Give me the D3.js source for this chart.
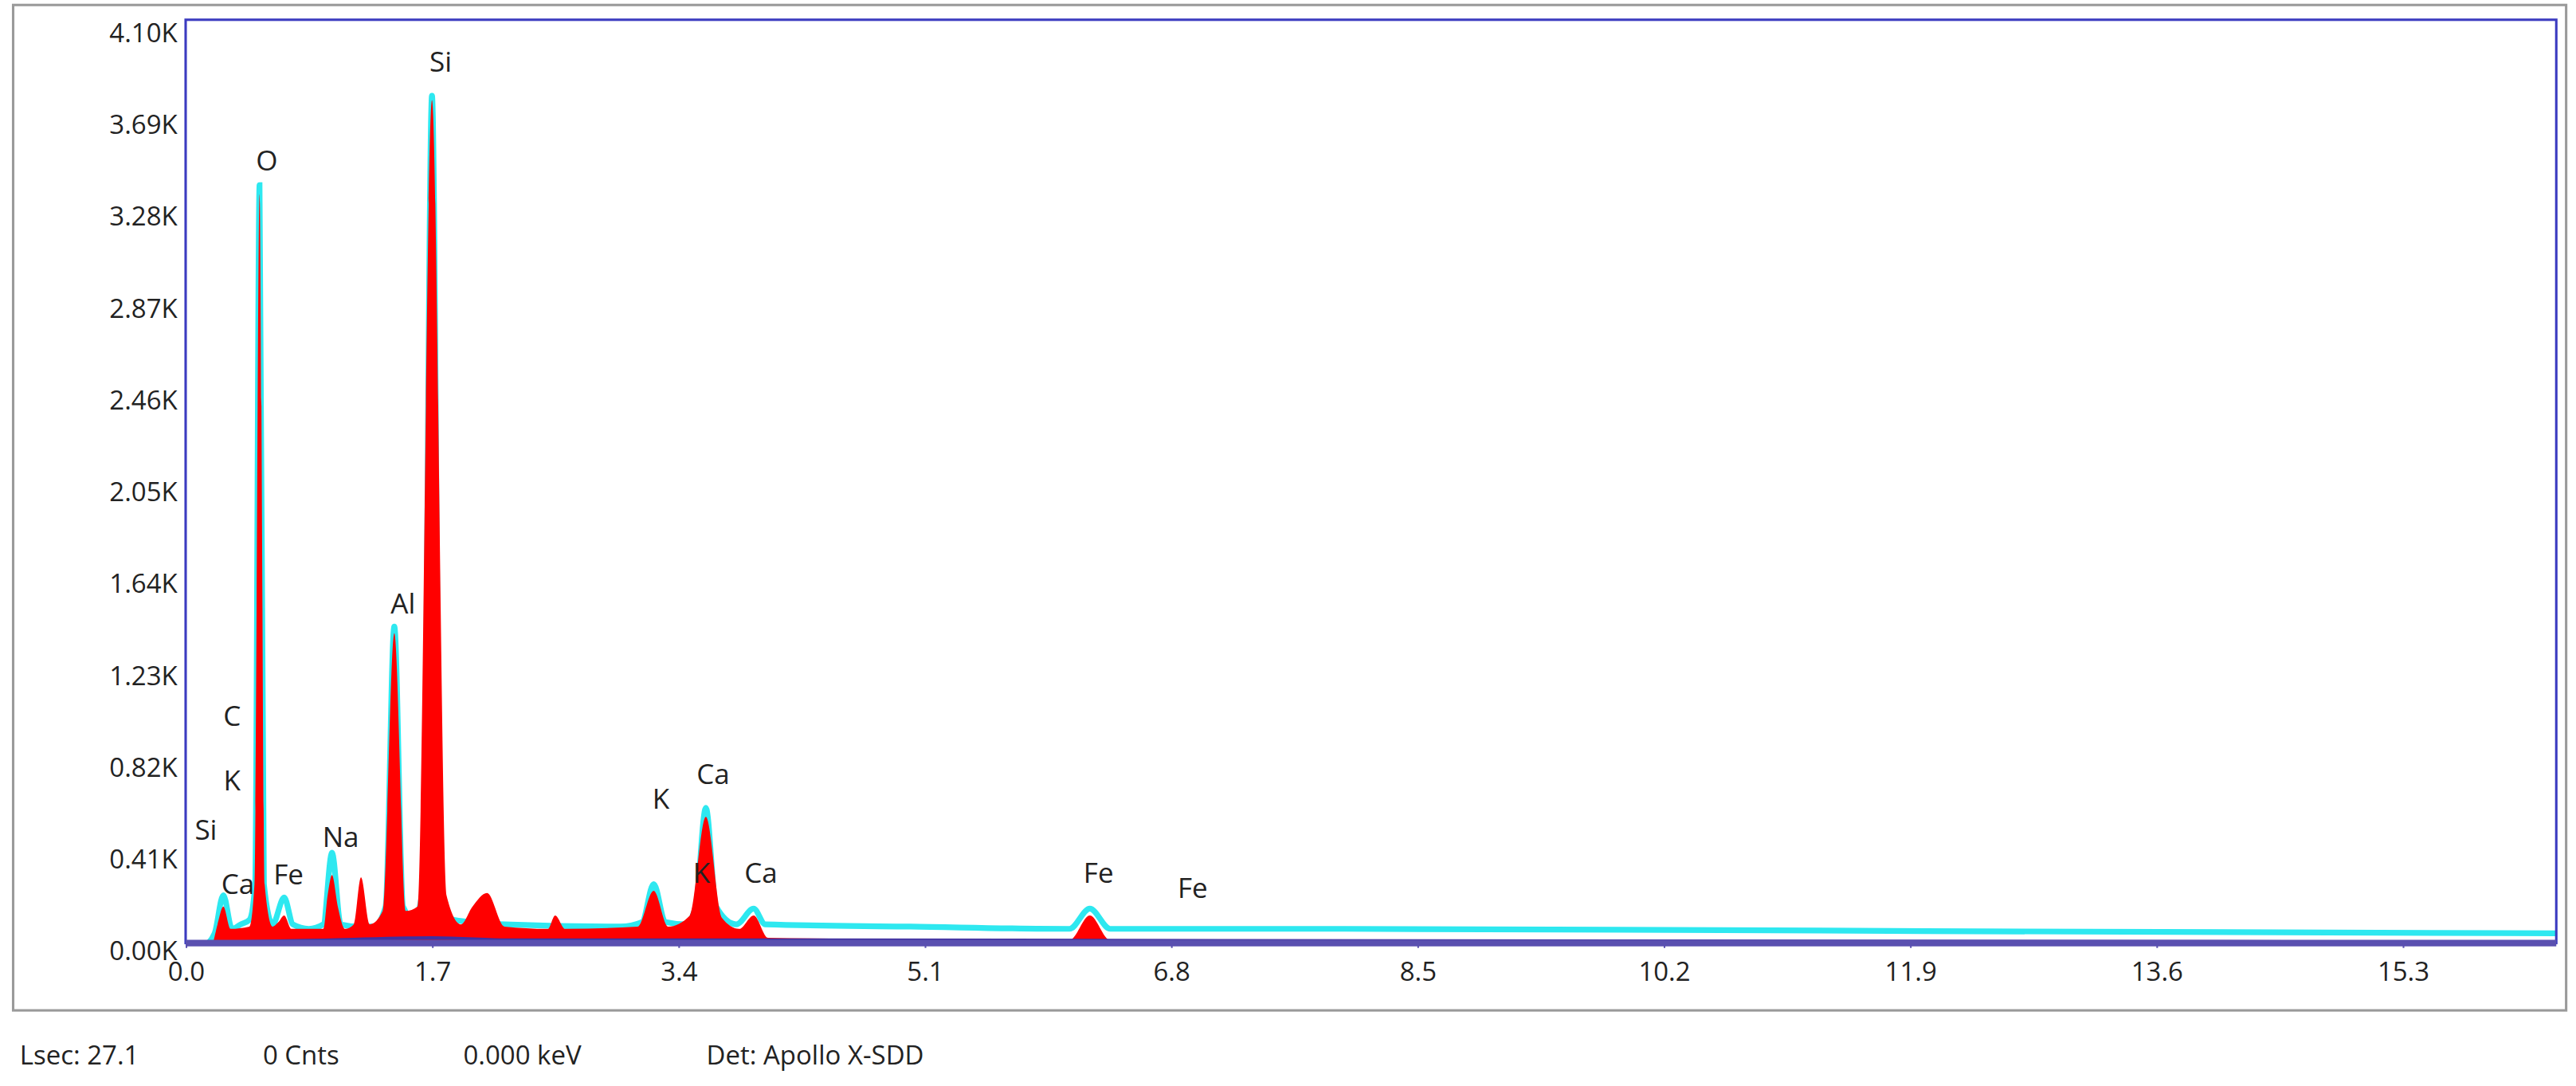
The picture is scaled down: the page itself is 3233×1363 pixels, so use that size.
<!DOCTYPE html>
<html><head><meta charset="utf-8">
<script src="https://cdn.jsdelivr.net/npm/d3@7"></script>
<style>body{margin:0;background:#fff}text{font-family:"Open Sans",sans-serif;fill:#222}</style>
</head><body>
<div id="chart"></div>
<script>
// spectrum: [keV, counts in K]
var totalSpectrum = [[0,0],[0.12,0.02],[0.2,0.08],[0.26,0.25],[0.32,0.1],[0.38,0.12],[0.44,0.14],[0.48,0.3],[0.51,3.42],[0.54,0.3],[0.6,0.12],[0.68,0.24],[0.74,0.12],[0.85,0.1],[0.95,0.12],[1.01,0.44],[1.07,0.12],[1.2,0.11],[1.3,0.11],[1.38,0.2],[1.44,1.45],[1.5,0.2],[1.58,0.14],[1.64,0.3],[1.70,3.82],[1.76,0.3],[1.85,0.14],[2.2,0.12],[3.0,0.11],[3.15,0.13],[3.23,0.3],[3.31,0.13],[3.45,0.12],[3.52,0.2],[3.59,0.64],[3.66,0.2],[3.8,0.12],[3.92,0.19],[4.0,0.12],[5,0.11],[6.1,0.1],[6.24,0.19],[6.38,0.1],[8,0.1],[12,0.09],[16.4,0.08]];
var fitSpectrum = [[0,0],[0.18,0.03],[0.22,0.12],[0.26,0.2],[0.31,0.1],[0.44,0.11],[0.475,0.3],[0.51,3.38],[0.545,0.3],[0.6,0.11],[0.64,0.13],[0.68,0.16],[0.73,0.1],[0.95,0.1],[0.98,0.25],[1.01,0.34],[1.05,0.2],[1.1,0.1],[1.16,0.12],[1.21,0.33],[1.27,0.12],[1.36,0.18],[1.44,1.42],[1.52,0.18],[1.6,0.2],[1.70,3.8],[1.8,0.25],[1.9,0.12],[1.98,0.2],[2.08,0.26],[2.2,0.11],[2.5,0.1],[2.55,0.16],[2.62,0.1],[3.12,0.11],[3.23,0.27],[3.33,0.11],[3.48,0.16],[3.59,0.6],[3.7,0.15],[3.82,0.1],[3.92,0.16],[4.02,0.06],[6.1,0.05],[6.24,0.16],[6.38,0.05],[8,0.04],[16.4,0.03]];
var background = [[0,0],[0.3,0.04],[1,0.05],[1.7,0.06],[2.2,0.05],[4,0.05],[16.4,0.04]];

// element labels: [text, keV, K]
var peakLabels = [["Si",1.76,3.96],["O",0.56,3.52],["Al",1.5,1.54],["C",0.32,1.04],["K",0.32,0.75],["Si",0.14,0.53],
  ["Ca",0.36,0.29],["Fe",0.71,0.33],["Na",1.07,0.5],["K",3.28,0.67],["Ca",3.64,0.78],["K",3.56,0.34],["Ca",3.97,0.34],
  ["Fe",6.30,0.34],["Fe",6.95,0.27]];

var xTicks = [0.0,1.7,3.4,5.1,6.8,8.5,10.2,11.9,13.6,15.3];
var yTicks = [0,0.41,0.82,1.23,1.64,2.05,2.46,2.87,3.28,3.69,4.10];
var footer = [["Lsec: 27.1",12],["0 Cnts",160],["0.000 keV",282],["Det: Apollo X-SDD",430]];

var W = 1568, H = 661;
var svg = d3.select("#chart").append("svg")
  .attr("width", 3233).attr("height", 1363)
  .attr("viewBox", `0 0 ${W} ${H}`);

var pLeft = 113, pRight = 1556, pTop = 12, pBottom = 574;

var x = d3.scaleLinear().domain([0, 16.36]).range([pLeft, pRight]);
var y = d3.scaleLinear().domain([0, 4.10]).range([579, 20]);

// outer frame
svg.append("rect").attr("x", 8).attr("y", 3).attr("width", 1554).attr("height", 612)
  .attr("fill", "none").attr("stroke", "#9a9a9a").attr("stroke-width", 1.5);

svg.append("clipPath").attr("id", "clip").append("rect")
  .attr("x", pLeft).attr("y", pTop).attr("width", pRight - pLeft).attr("height", pBottom - pTop);

var plot = svg.append("g").attr("clip-path", "url(#clip)");

var area = d3.area().x(d => x(d[0])).y0(pBottom).y1(d => y(d[1])).curve(d3.curveMonotoneX);
var line = d3.line().x(d => x(d[0])).y(d => y(d[1])).curve(d3.curveMonotoneX);

plot.append("path").datum(totalSpectrum).attr("d", line)
  .attr("fill", "none").attr("stroke", "#2ee8f0").attr("stroke-width", 3.5);
plot.append("path").datum(fitSpectrum).attr("d", area).attr("fill", "#ff0000");
plot.append("path").datum(background).attr("d", area).attr("fill", "#8a1040").attr("opacity", 0.7);
plot.append("path").datum(background).attr("d", line)
  .attr("fill", "none").attr("stroke", "#4030a0").attr("stroke-width", 2);

// plot border
svg.append("rect").attr("x", pLeft).attr("y", pTop).attr("width", pRight - pLeft).attr("height", pBottom - pTop)
  .attr("fill", "none").attr("stroke", "#3b3bc0").attr("stroke-width", 1.5);
svg.append("line").attr("x1", pLeft).attr("x2", pRight).attr("y1", pBottom).attr("y2", pBottom)
  .attr("stroke", "#5a50b0").attr("stroke-width", 4);

// axes
var xAxis = svg.append("g").attr("transform", `translate(0,${pBottom})`)
  .call(d3.axisBottom(x).tickValues(xTicks).tickFormat(d3.format(".1f")).tickSize(3));
xAxis.select(".domain").remove();
xAxis.selectAll("line").attr("stroke", "#5a50b0");
xAxis.selectAll("text").attr("font-size", 16).attr("dy", "1.05em");

var yAxis = svg.append("g").attr("transform", `translate(${pLeft},0)`)
  .call(d3.axisLeft(y).tickValues(yTicks).tickFormat(d => d.toFixed(2) + "K").tickSize(0).tickPadding(5));
yAxis.select(".domain").remove();
yAxis.selectAll("text").attr("font-size", 16);

// peak labels
svg.selectAll(".pl").data(peakLabels).enter().append("text")
  .attr("x", d => x(d[1])).attr("y", d => y(d[2]))
  .attr("text-anchor", "middle").attr("dominant-baseline", "middle")
  .attr("font-size", 17).text(d => d[0]);

// status line
svg.selectAll(".ft").data(footer).enter().append("text")
  .attr("x", d => d[1]).attr("y", 648).attr("font-size", 16).text(d => d[0]);
</script>
</body></html>
